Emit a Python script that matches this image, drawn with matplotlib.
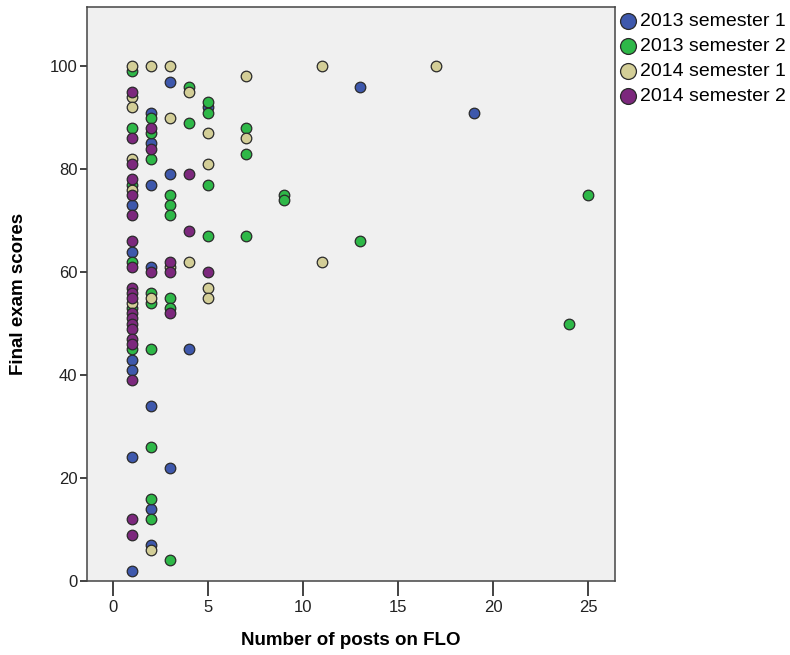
import matplotlib
matplotlib.use("Agg")
import matplotlib.pyplot as plt

# posts on FLO (x) and final exam score (y) per cohort
blue_x = [1, 1, 1, 1, 1, 1, 2, 2, 2, 2, 2, 2, 2, 3, 3, 3, 4, 5, 13, 19]
blue_y = [73, 64, 43, 41, 24, 2, 91, 85, 77, 61, 34, 14, 7, 97, 79, 22, 45, 92, 96, 91]

green_x = [1, 1, 1, 1, 1, 1, 2, 2, 2, 2, 2, 2, 2, 2, 2, 3, 3, 3, 3, 3, 3,
           4, 4, 5, 5, 5, 5, 7, 7, 7, 9, 9, 13, 24, 25]
green_y = [99, 88, 77, 62, 53, 45, 90, 87, 82, 56, 54, 45, 26, 16, 12, 75, 73, 71, 55, 53, 4,
           96, 89, 93, 91, 77, 67, 88, 83, 67, 75, 74, 66, 50, 75]

tan_x = [1, 1, 1, 1, 1, 1, 2, 2, 2, 3, 3, 3, 4, 4, 5, 5, 5, 5, 7, 7, 11, 11, 17]
tan_y = [100, 94, 92, 82, 76, 54, 100, 55, 6, 100, 90, 61, 95, 62, 87, 81, 57, 55, 98, 86, 100, 62, 100]

purple_x = [1] * 20 + [2, 2, 2, 3, 3, 3, 4, 4, 5]
purple_y = [95, 86, 81, 78, 75, 71, 66, 61, 57, 56, 55, 52, 51, 50, 49, 47, 46, 39, 12, 9,
            88, 84, 60, 62, 60, 52, 79, 68, 60]

groups = ["2013 semester 1", "2013 semester 2", "2014 semester 1", "2014 semester 2"]
colors = ["#3E58AC", "#2EB848", "#D3CE97", "#7C287D"]

font = ["Liberation Sans", "DejaVu Sans"]

fig = plt.figure(figsize=(7.9, 6.55), dpi=100)
ax = fig.add_axes([87/790, 1 - 581/655, 528/790, 574/655])
ax.set_facecolor("#F0F0F0")

handles = []
for gx, gy, lab, col in zip([blue_x, green_x, tan_x, purple_x],
                            [blue_y, green_y, tan_y, purple_y], groups, colors):
    h = ax.scatter(gx, gy, s=58, c=col, edgecolors="#2a2a2a", linewidths=0.9, label=lab, zorder=3)
    handles.append(h)

ax.set_xlim(-1.37, 26.4)
ax.set_ylim(0, 111.5)
ax.set_xticks([0, 5, 10, 15, 20, 25])
ax.set_yticks([0, 20, 40, 60, 80, 100])
ax.tick_params(axis="x", length=11, width=1.2, color="#222222", pad=3)
ax.tick_params(axis="y", length=5, width=1.2, color="#222222", pad=2)
for t in ax.get_xticklabels() + ax.get_yticklabels():
    t.set_family(font)
    t.set_fontsize(12)
    t.set_color("#222222")
for sp in ax.spines.values():
    sp.set_color("#444444")
    sp.set_linewidth(1.1)

ax.set_xlabel("Number of posts on FLO", fontsize=13.5, fontweight="bold",
              family=font, labelpad=12)
ax.set_ylabel("Final exam scores", fontsize=13.5, fontweight="bold",
              family=font, labelpad=16)

fig.legend(handles=handles, loc="upper left", bbox_to_anchor=(620/790, 1 - 12/655),
           frameon=False, markerscale=1.5, handletextpad=0.2, labelspacing=0.38,
           borderpad=0.0, borderaxespad=0.0, handlelength=0.85,
           prop={"family": font, "size": 14})

fig.savefig("out.png", dpi=100)
